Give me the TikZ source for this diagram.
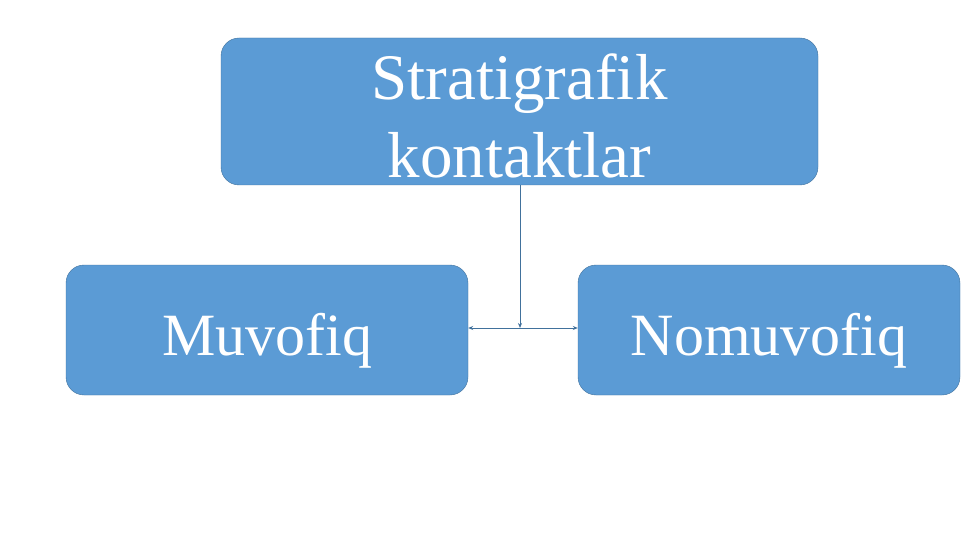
\documentclass[tikz,border=0pt]{standalone}
\usepackage{fontspec}
\setmainfont{Liberation Serif}
\usepackage{xcolor}
\usetikzlibrary{positioning, arrows.meta}
\definecolor{boxblue}{HTML}{5B9BD5}
\definecolor{boxline}{HTML}{41719C}
\tikzset{
  kbox/.style={draw=boxline, fill=boxblue, rounded corners=18pt, text=white, align=center, inner sep=0pt},
  ktext/.style={text=white, align=center, inner sep=0pt, font=\fontsize{65}{78}\selectfont},
  link/.style={draw=boxline, line width=0.8pt, -{Stealth[length=5pt,width=4pt]}}
}

\begin{document}
\begin{tikzpicture}[x=1pt, y=-1pt]
\useasboundingbox (0, 0) rectangle (961, 540);
\node [kbox, minimum width=597pt, minimum height=147pt] (top) at (519.5, 111.5) {};
\node [ktext, anchor=base] (toptext) at (519.5, 178) {Stratigrafik\\kontaktlar};
\node [kbox, minimum width=402pt, minimum height=130pt, font=\fontsize{60}{72}\selectfont, text height=50pt, text depth=0pt] (muv) at (267, 330) {Muvofiq};
\node [kbox, minimum width=382pt, minimum height=130pt, font=\fontsize{60}{72}\selectfont, text height=50pt, text depth=0pt] (nomuv) at (769, 330) {Nomuvofiq};
\coordinate (mid) at (520, 328);
\draw [link] (top.south -| mid) -- (mid);
\draw [link] (mid) -- (muv.east |- mid);
\draw [link] (mid) -- (nomuv.west |- mid);
\end{tikzpicture}
\end{document}
